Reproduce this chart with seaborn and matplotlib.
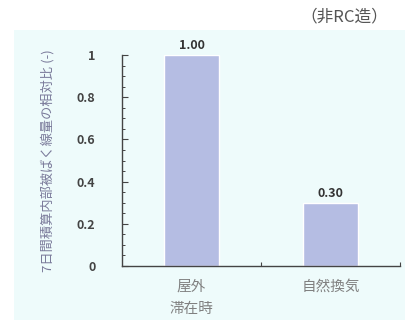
import matplotlib
matplotlib.use("Agg")
import matplotlib.pyplot as plt
import matplotlib.patches as mpatches
from matplotlib.ticker import MultipleLocator, FixedLocator
import seaborn as sns
import pandas as pd

categories = ["屋外\n滞在時", "自然換気"]
values = [1.00, 0.30]
value_labels = ["1.00", "0.30"]
y_ticks = [0, 0.2, 0.4, 0.6, 0.8, 1]
y_tick_labels = ["0", "0.2", "0.4", "0.6", "0.8", "1"]
y_label = "7日間積算内部被ばく線量の相対比 (-)"
corner_note = "（非RC造）"

sns.set_theme(style="white")
plt.rcParams["font.family"] = ["Noto Sans CJK JP", "DejaVu Sans"]

df = pd.DataFrame({"cat": categories, "val": values})

fig = plt.figure(figsize=(4.06, 3.2), dpi=100)
fig.patch.set_facecolor("white")

# pale panel behind the chart
panel = mpatches.Rectangle((14 / 406, 0), 1 - 14 / 406, 1 - 30 / 320,
                           transform=fig.transFigure, facecolor="#eefbfb",
                           edgecolor="none", zorder=-10)
fig.patches.append(panel)

ax = fig.add_axes([122 / 406, 1 - 266 / 320, (400 - 122) / 406, (266 - 55) / 320])
ax.set_facecolor("none")
ax.set_zorder(5)

sns.barplot(data=df, x="cat", y="val", color="#b5bde3", saturation=1,
            width=0.39, ax=ax)

ax.set_xlim(-0.5, 1.5)
ax.set_ylim(0, 1)

for i, (v, lab) in enumerate(zip(values, value_labels)):
    ax.text(i, v + 0.012, lab, ha="center", va="bottom", fontsize=9,
            fontweight="bold", color="#333333")

ax.yaxis.set_major_locator(FixedLocator(y_ticks))
ax.set_yticklabels(y_tick_labels, fontsize=9, fontweight="bold", color="#444444")
ax.yaxis.set_minor_locator(MultipleLocator(0.05))
ax.tick_params(axis="y", which="major", direction="in", length=4, width=0.8,
               color="#444444", left=True, pad=19)
ax.tick_params(axis="y", which="minor", direction="in", length=2.5, width=0.7,
               color="#444444", left=True)

ax.set_xticks([0, 1])
ax.set_xticklabels(categories, fontsize=10.5, color="#808080", linespacing=1.75)
ax.xaxis.set_minor_locator(FixedLocator([0.5, 1.5]))
ax.tick_params(axis="x", which="major", length=0, pad=10)
ax.tick_params(axis="x", which="minor", direction="in", length=3, width=0.8,
               color="#444444", bottom=True)

ax.set_xlabel("")
ax.set_ylabel(y_label, fontsize=9.5, color="#7a7a9a", labelpad=16)

for side in ["top", "right"]:
    ax.spines[side].set_visible(False)
for side in ["left", "bottom"]:
    ax.spines[side].set_color("#444444")
    ax.spines[side].set_linewidth(1.0)

fig.text(388 / 406, 1 - 17 / 320, corner_note, ha="right", va="center",
         fontsize=12, color="#555555")

fig.savefig("out.png", dpi=100)
